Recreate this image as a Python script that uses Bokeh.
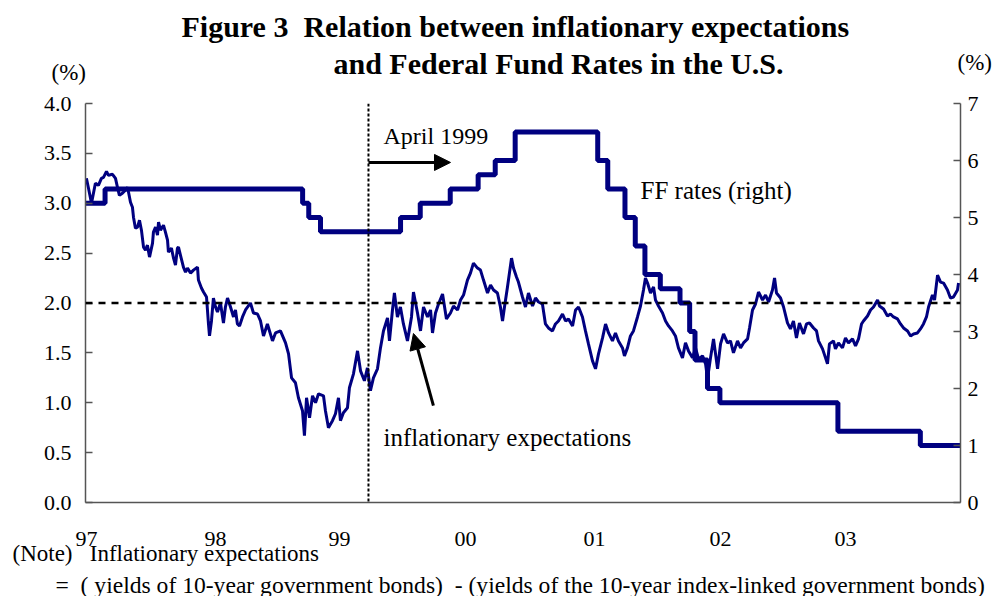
from bokeh.plotting import figure
from bokeh.layouts import column
from bokeh.models import Range1d, LinearAxis, FixedTicker, Label, Arrow, NormalHead, Span, NumeralTickFormatter
from bokeh.embed import file_html
from bokeh.resources import INLINE

# ---------------- data ----------------
# Inflationary expectations (left axis, %), decimal years
ie_year = [1997.084, 1997.100, 1997.123, 1997.138, 1997.153, 1997.176, 1997.199, 1997.215, 1997.238, 1997.253,
           1997.284, 1997.307, 1997.322, 1997.337, 1997.360, 1997.383, 1997.399, 1997.407, 1997.422, 1997.437,
           1997.445, 1997.460, 1997.476, 1997.491, 1997.506, 1997.522, 1997.537, 1997.552, 1997.568, 1997.591,
           1997.598, 1997.614, 1997.629, 1997.637, 1997.652, 1997.675, 1997.690, 1997.706, 1997.713, 1997.736,
           1997.752, 1997.767, 1997.782, 1997.790, 1997.805, 1997.828, 1997.844, 1997.859, 1997.882, 1997.905,
           1997.936, 1997.943, 1997.966, 1997.982, 1998.005, 1998.020, 1998.028, 1998.043, 1998.058, 1998.074,
           1998.089, 1998.112, 1998.135, 1998.150, 1998.166, 1998.189, 1998.212, 1998.227, 1998.242, 1998.258,
           1998.281, 1998.304,
           1998.342, 1998.365, 1998.396, 1998.419, 1998.442, 1998.472, 1998.511, 1998.534, 1998.572, 1998.611,
           1998.634, 1998.657, 1998.687, 1998.710, 1998.741, 1998.756, 1998.772, 1998.795, 1998.818, 1998.841,
           1998.864, 1998.902, 1998.917, 1998.940, 1998.971, 1998.994, 1999.017, 1999.032, 1999.055, 1999.086,
           1999.101, 1999.132, 1999.163, 1999.186, 1999.216, 1999.239, 1999.262, 1999.285, 1999.316, 1999.339,
           1999.362, 1999.393, 1999.408, 1999.431, 1999.446, 1999.469, 1999.492, 1999.515, 1999.546, 1999.577,
           1999.592,
           1999.623, 1999.646, 1999.669, 1999.700, 1999.723, 1999.738, 1999.761, 1999.784, 1999.815, 1999.845,
           1999.876, 1999.899, 1999.930, 1999.953, 1999.976, 2000.006, 2000.029, 2000.052, 2000.083, 2000.106,
           2000.129, 2000.160, 2000.183, 2000.206, 2000.236, 2000.259, 2000.275, 2000.290, 2000.313, 2000.344,
           2000.359, 2000.382, 2000.397, 2000.428, 2000.451, 2000.474, 2000.505, 2000.528, 2000.551, 2000.581,
           2000.604, 2000.627, 2000.658, 2000.681, 2000.704, 2000.735, 2000.758, 2000.781, 2000.812, 2000.835,
           2000.858, 2000.888, 2000.911, 2000.934, 2000.965, 2000.988, 2001.011, 2001.042, 2001.065, 2001.088,
           2001.118, 2001.141, 2001.164, 2001.195, 2001.210, 2001.233, 2001.256, 2001.279, 2001.310, 2001.333,
           2001.356, 2001.371, 2001.387, 2001.410, 2001.433, 2001.448, 2001.471, 2001.502, 2001.525, 2001.548,
           2001.578, 2001.601, 2001.624, 2001.655, 2001.678, 2001.701, 2001.732, 2001.755, 2001.778, 2001.809,
           2001.832, 2001.847, 2001.870, 2001.893, 2001.924, 2001.947, 2001.970, 2002.000, 2002.023, 2002.046,
           2002.077, 2002.100, 2002.123, 2002.154, 2002.169, 2002.192, 2002.215, 2002.238, 2002.269, 2002.292,
           2002.315, 2002.345, 2002.361, 2002.376, 2002.407, 2002.430, 2002.460, 2002.483,
           2002.506, 2002.529, 2002.552, 2002.583, 2002.606, 2002.629, 2002.660, 2002.683, 2002.698, 2002.729,
           2002.752, 2002.767, 2002.782, 2002.813, 2002.828, 2002.851, 2002.882, 2002.905, 2002.928, 2002.959,
           2002.982, 2003.005, 2003.028, 2003.043, 2003.074, 2003.097, 2003.120, 2003.151, 2003.166, 2003.197,
           2003.227, 2003.250, 2003.273, 2003.304, 2003.327, 2003.350, 2003.381, 2003.404, 2003.427, 2003.457,
           2003.480, 2003.503, 2003.526, 2003.542, 2003.572, 2003.588, 2003.611, 2003.634, 2003.657, 2003.687,
           2003.710, 2003.733, 2003.764, 2003.772]
ie_value = [3.25, 3.15, 3.00, 3.10, 3.20, 3.18, 3.25, 3.26, 3.32, 3.28,
            3.29, 3.25, 3.16, 3.08, 3.10, 3.13, 3.16, 3.11, 3.01, 2.96,
            2.86, 2.75, 2.76, 2.83, 2.73, 2.56, 2.53, 2.58, 2.46, 2.60,
            2.71, 2.76, 2.68, 2.81, 2.73, 2.78, 2.71, 2.63, 2.51, 2.55,
            2.45, 2.38, 2.55, 2.56, 2.48, 2.36, 2.31, 2.35, 2.30, 2.33,
            2.36, 2.23, 2.15, 2.11, 2.06, 1.79, 1.67, 1.82, 2.05, 1.96,
            1.91, 2.00, 1.80, 1.96, 2.05, 1.96, 1.86, 1.93, 1.79, 1.77,
            1.86, 1.93,
            2.00, 1.90, 1.89, 1.82, 1.67, 1.79, 1.62, 1.70, 1.72, 1.60,
            1.49, 1.25, 1.20, 1.05, 0.92, 0.67, 1.05, 0.85, 1.07, 1.00,
            1.09, 1.07, 0.92, 0.75, 0.82, 0.89, 1.05, 0.82, 0.90, 0.95,
            1.15, 1.29, 1.52, 1.32, 1.22, 1.35, 1.12, 1.25, 1.34, 1.55,
            1.72, 1.85, 1.62, 1.93, 2.10, 1.86, 1.96, 1.79, 1.62, 1.86,
            2.11,
            1.90, 1.72, 1.96, 1.86, 1.93, 1.70, 1.90, 1.99, 2.09, 1.84,
            1.90, 1.97, 1.93, 2.03, 2.08, 2.23, 2.30, 2.40, 2.35, 2.33,
            2.23, 2.10, 2.18, 2.13, 2.10, 1.96, 1.82, 1.96, 2.16, 2.45,
            2.35, 2.26, 2.21, 2.06, 1.96, 2.10, 1.97, 2.05, 2.01, 1.99,
            1.79, 1.75, 1.72, 1.79, 1.82, 1.89, 1.82, 1.84, 1.77, 1.93,
            1.96, 1.86, 1.72, 1.59, 1.42, 1.34, 1.49, 1.65, 1.79, 1.70,
            1.62, 1.70, 1.62, 1.55, 1.47, 1.55, 1.67, 1.72, 1.86, 1.97,
            2.13, 2.25, 2.20, 2.10, 2.16, 2.03, 1.97, 1.90, 1.82, 1.77,
            1.72, 1.67, 1.55, 1.45, 1.60, 1.52, 1.45, 1.55, 1.44, 1.47,
            1.39, 1.24, 1.45, 1.64, 1.34, 1.59, 1.69, 1.60, 1.62, 1.50,
            1.62, 1.55, 1.60, 1.64, 1.75, 1.93, 1.99, 2.11, 2.03, 2.08,
            2.01, 2.13, 2.25, 2.10, 2.05, 1.96, 1.80, 1.74,
            1.82, 1.65, 1.80, 1.69, 1.79, 1.80, 1.75, 1.72, 1.62, 1.54,
            1.45, 1.39, 1.59, 1.62, 1.54, 1.60, 1.55, 1.65, 1.60, 1.64,
            1.57, 1.64, 1.79, 1.82, 1.87, 1.93, 1.96, 2.03, 1.97, 1.94,
            1.87, 1.89, 1.86, 1.84, 1.79, 1.75, 1.72, 1.67, 1.69, 1.70,
            1.74, 1.79, 1.86, 1.96, 2.08, 2.03, 2.28, 2.21, 2.20, 2.13,
            2.05, 2.06, 2.13, 2.20]

# Federal funds target rate (right axis, %), step changes
ff_year = [1997.077, 1997.227, 1998.742, 1998.789, 1998.879, 1999.493, 1999.644, 1999.874,
           2000.088, 2000.219, 2000.372, 2001.005, 2001.082, 2001.214, 2001.293, 2001.367,
           2001.485, 2001.636, 2001.710, 2001.751, 2001.847, 2001.942, 2002.847, 2003.479, 2003.787]
ff_rate = [5.25, 5.50, 5.25, 5.00, 4.75, 5.00, 5.25, 5.50,
           5.75, 6.00, 6.50, 6.00, 5.50, 5.00, 4.50, 4.00,
           3.75, 3.50, 3.00, 2.50, 2.00, 1.75, 1.25, 1.00, 1.00]

year_tick_pos = [1997.084, 1998.074, 1999.025, 1999.991, 2000.980, 2001.946, 2002.905]
year_tick_labels = ["97", "98", "99", "00", "01", "02", "03"]
left_ticks = [0.0, 0.5, 1.0, 1.5, 2.0, 2.5, 3.0, 3.5, 4.0]
right_ticks = [0, 1, 2, 3, 4, 5, 6, 7]
reference_level = 2.0
april_1999 = 1999.247

title_1 = "Figure 3\u00a0\u00a0Relation between inflationary expectations"
title_2 = "and Federal Fund Rates in the U.S."
note_1 = "(Note)\u00a0\u00a0\u00a0Inflationary expectations"
note_2 = "=\u00a0\u00a0( yields of 10-year government bonds)\u00a0\u00a0- (yields of the 10-year index-linked government bonds)"

FONT = "Liberation Serif"
NAVY = "#000080"
AXIS = "#555555"
W, H = 994, 596

p = figure(width=W, height=H, output_backend="svg", toolbar_location=None,
           x_range=Range1d(1997.077, 2003.787), y_range=Range1d(0, 4),
           min_border_left=85, min_border_right=34, min_border_top=103, min_border_bottom=94)
p.extra_y_ranges = {"ff": Range1d(0, 7)}
p.outline_line_color = None
p.xgrid.visible = False
p.ygrid.visible = False
p.background_fill_color = "white"
p.border_fill_color = "white"

# left axis
ya = p.yaxis[0]
ya.ticker = FixedTicker(ticks=left_ticks)
ya.formatter = NumeralTickFormatter(format="0.0")
ya.major_tick_in = 7
ya.major_tick_out = 0
ya.minor_tick_line_color = None
ya.axis_line_color = AXIS
ya.axis_line_width = 1.5
ya.major_tick_line_color = AXIS
ya.major_tick_line_width = 1.5
ya.major_label_text_font = FONT
ya.major_label_text_font_size = "22px"
ya.major_label_text_color = "black"
ya.major_label_standoff = 14

# right axis
ra = LinearAxis(y_range_name="ff", ticker=FixedTicker(ticks=right_ticks))
ra.major_tick_in = 7
ra.major_tick_out = 0
ra.minor_tick_line_color = None
ra.axis_line_color = AXIS
ra.axis_line_width = 1.5
ra.major_tick_line_color = AXIS
ra.major_tick_line_width = 1.5
ra.major_label_text_font = FONT
ra.major_label_text_font_size = "22px"
ra.major_label_text_color = "black"
ra.major_label_standoff = 7
p.add_layout(ra, "right")

# bottom axis
xa = p.xaxis[0]
xa.ticker = FixedTicker(ticks=year_tick_pos)
xa.major_label_overrides = {k: v for k, v in zip(year_tick_pos, year_tick_labels)}
xa.major_tick_in = 0
xa.major_tick_out = 0
xa.minor_tick_line_color = None
xa.axis_line_color = AXIS
xa.axis_line_width = 1.5
xa.major_label_text_font = FONT
xa.major_label_text_font_size = "22px"
xa.major_label_text_color = "black"
xa.major_label_standoff = 29

# reference lines
p.add_layout(Span(location=reference_level, dimension="width", line_color="black",
                  line_width=2.5, line_dash="7 6"))
p.add_layout(Span(location=april_1999, dimension="height", line_color="black",
                  line_width=2, line_dash="3 2"))

# series
p.step(ff_year, ff_rate, mode="after", line_color=NAVY, line_width=5, y_range_name="ff")
p.line(ie_year, ie_value, line_color=NAVY, line_width=3)


def lab(fig, x, y, text, size, bold=False):
    fig.add_layout(Label(x=x, y=y, text=text, text_font=FONT, text_font_size=size,
                         text_font_style="bold" if bold else "normal", text_color="black",
                         text_align="left", text_baseline="middle"))


# in-plot annotations (data coordinates)
lab(p, 1999.362, 3.679, "April 1999", "24px")
lab(p, 2001.333, 3.128, "FF rates (right)", "25px")
lab(p, 1999.362, 0.652, "inflationary expectations", "25px")
p.add_layout(Arrow(end=NormalHead(size=16, fill_color="black", line_color="black"),
                   x_start=1999.247, y_start=3.409, x_end=1999.876, y_end=3.409,
                   line_color="black", line_width=3))
p.add_layout(Arrow(end=NormalHead(size=16, fill_color="black", line_color="black"),
                   x_start=1999.745, y_start=0.972, x_end=1999.592, y_end=1.694,
                   line_color="black", line_width=3))

# transparent text layer over the whole canvas for title, units and note (page pixels, y down)
ov = figure(width=W, height=H, output_backend="svg", toolbar_location=None,
            x_range=Range1d(0, W), y_range=Range1d(H, 0),
            x_axis_type=None, y_axis_type=None, min_border=0)
ov.outline_line_color = None
ov.background_fill_color = None
ov.border_fill_color = None
ov.grid.visible = False

lab(ov, 181, 26, title_1, "30px", bold=True)
lab(ov, 333, 63, title_2, "30px", bold=True)
lab(ov, 51, 72, "(%)", "23px")
lab(ov, 957, 62, "(%)", "23px")
lab(ov, 12, 553, note_1, "23px")
lab(ov, 55, 584, note_2, "23.6px")

layout = column(p, column(ov, margin=(-H, 0, 0, 0)))
open("out.html", "w").write(file_html(layout, INLINE))
